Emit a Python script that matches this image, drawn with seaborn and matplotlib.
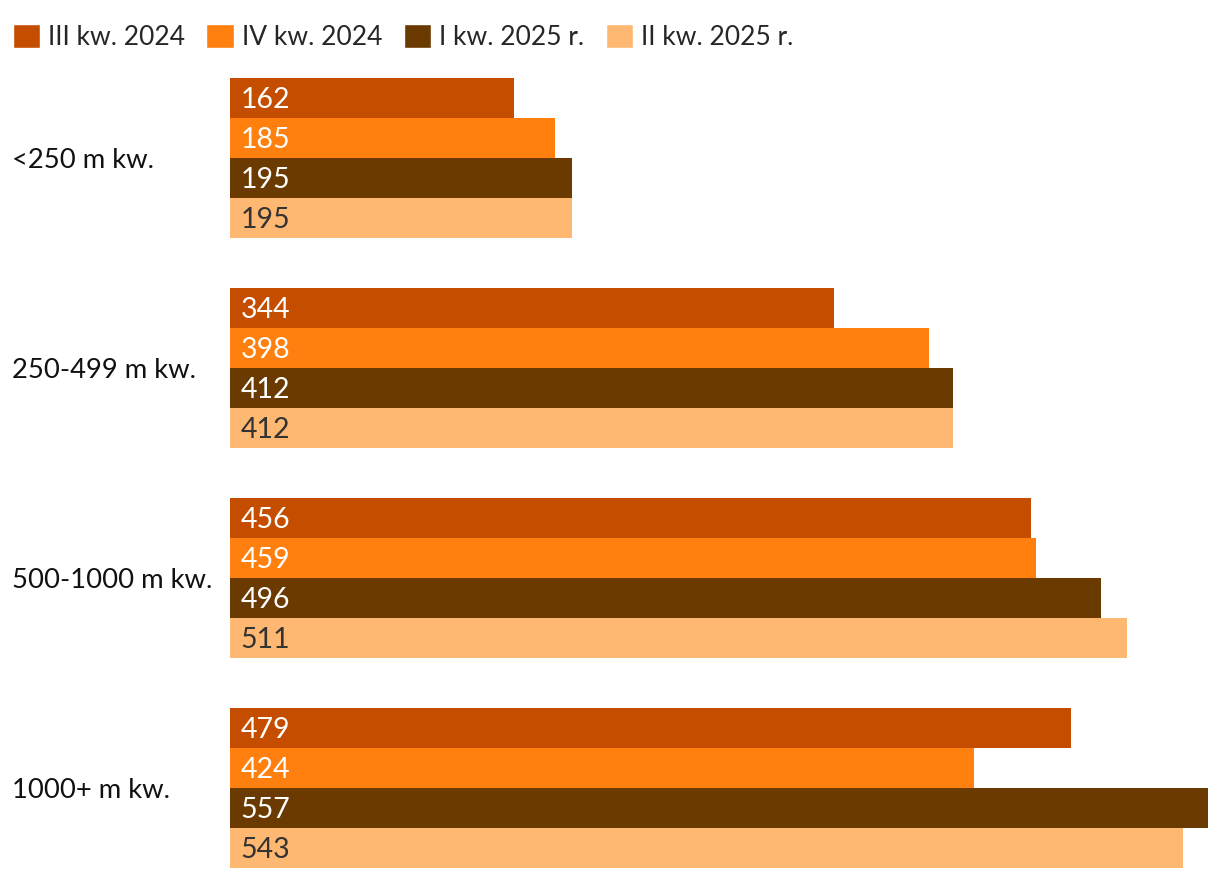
import pandas as pd
import seaborn as sns
import matplotlib.pyplot as plt
from matplotlib.patches import Patch

# DATA
categories = ["<250 m kw.", "250-499 m kw.", "500-1000 m kw.", "1000+ m kw."]
quarters = ["III kw. 2024", "IV kw. 2024", "I kw. 2025 r.", "II kw. 2025 r."]
q3_2024 = [162, 344, 456, 479]
q4_2024 = [185, 398, 459, 424]
q1_2025 = [195, 412, 496, 557]
q2_2025 = [195, 412, 511, 543]
colors = ["#c54d00", "#ff800e", "#6b3a00", "#ffb872"]
label_colors = ["white", "white", "white", "#333333"]

rows = []
for q, vals in zip(quarters, [q3_2024, q4_2024, q1_2025, q2_2025]):
    for c, v in zip(categories, vals):
        rows.append({"kategoria": c, "kwartal": q, "wartosc": v})
df = pd.DataFrame(rows)

sns.set_style("white")
plt.rcParams["font.family"] = ["Lato", "DejaVu Sans"]

fig = plt.figure(figsize=(12.2, 8.8), dpi=100)
ax = fig.add_axes([230 / 1220, 12 / 880, 978 / 1220, 790 / 880])

sns.barplot(data=df, y="kategoria", x="wartosc", hue="kwartal",
            order=categories, hue_order=quarters, palette=colors,
            orient="h", width=160 / 210, saturation=1, linewidth=0,
            ax=ax, legend=False)

# value labels inside bars, left side
for cont, lc in zip(ax.containers, label_colors):
    for p in cont.patches:
        ax.annotate(f"{p.get_width():.0f}", xy=(0, p.get_y() + p.get_height() / 2),
                    xytext=(7.5, -1.5), textcoords="offset points",
                    ha="left", va="center", fontsize=20.5, color=lc)

ax.set_xlim(0, 557)
ax.set_ylim(3 + 0.5 * 160 / 210, -0.5 * 160 / 210)
ax.set_xlabel("")
ax.set_ylabel("")
ax.set_xticks([])
for s in ax.spines.values():
    s.set_visible(False)
ax.tick_params(axis="y", length=0, pad=157, labelsize=19.7)
for t in ax.get_yticklabels():
    t.set_ha("left")
    t.set_color("#111111")

handles = [Patch(facecolor=c, label=q) for c, q in zip(colors, quarters)]
fig.legend(handles=handles, loc="upper left", bbox_to_anchor=(2 / 1220, 1 - 13 / 880),
           ncol=4, frameon=False, fontsize=19, handlelength=1.05, handleheight=1.05,
           handletextpad=0.3, columnspacing=0.8, borderaxespad=0)

fig.savefig("out.png", dpi=100)
